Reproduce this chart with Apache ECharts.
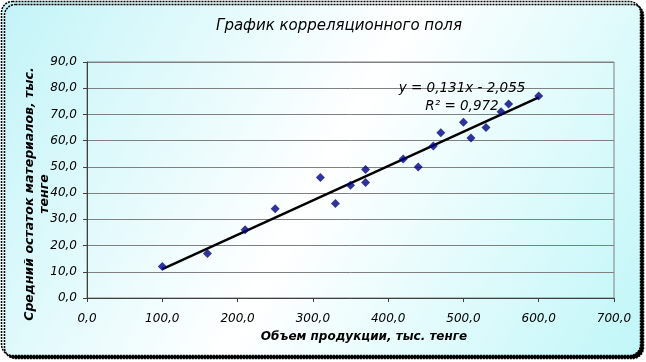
<!DOCTYPE html>
<html>
<head>
<meta charset="utf-8">
<script src="https://cdn.jsdelivr.net/npm/echarts@6/dist/echarts.min.js"></script>
<style>
html,body{margin:0;padding:0;background:#ffffff;}
#chart{width:646px;height:362px;}
</style>
</head>
<body>
<div id="chart"></div>
<script>
// Data
const titleText = 'График корреляционного поля';
const xAxisTitle = 'Объем продукции, тыс. тенге';
const yAxisTitle = 'Средний остаток материалов, тыс.\nтенге';
const xValues = [100, 160, 210, 250, 310, 330, 350, 370, 370, 420, 440, 460, 470, 500, 510, 530, 550, 560, 600];
const yValues = [12, 17, 26, 34, 46, 36, 43, 44, 49, 53, 50, 58, 63, 67, 61, 65, 71, 74, 77];
const trendSlope = 0.131;
const trendIntercept = -2.055;
const trendRange = [100, 600];
const equationText = 'y = 0,131x - 2,055';
const r2Text = 'R² = 0,972';
const xTicks = {min: 0, max: 700, interval: 100};
const yTicks = {min: 0, max: 90, interval: 10};

const points = xValues.map((x, i) => [x, yValues[i]]);
const trend = trendRange.map(x => [x, trendSlope * x + trendIntercept]);
const fmt = v => v.toFixed(1).replace('.', ',');

const chart = echarts.init(document.getElementById('chart'), null, {renderer: 'canvas'});
const font = '"DejaVu Sans", sans-serif';
chart.setOption({
  backgroundColor: 'transparent',
  animation: false,
  graphic: [
    {
      type: 'rect', z: -10, silent: true,
      shape: {x: 1.5, y: 1.5, width: 639, height: 354, r: 11},
      style: {
        fill: new echarts.graphic.LinearGradient(0, 0, 1, 1, [
          {offset: 0, color: '#c2f4f8'},
          {offset: 0.5, color: '#ffffff'},
          {offset: 1, color: '#c0f6f8'}
        ]),
        stroke: '#000000', lineWidth: 1.5, lineDash: [2, 1],
        shadowColor: '#000000', shadowOffsetX: 3, shadowOffsetY: 3, shadowBlur: 0
      }
    },
    {
      type: 'text', x: 339, y: 26, z: 10,
      style: {text: titleText, font: 'italic 15px ' + font, fill: '#000000',
              textAlign: 'center', textVerticalAlign: 'middle'}
    },
    {
      type: 'text', x: 462, y: 97, z: 10,
      style: {text: equationText + '\n' + r2Text, font: 'italic 13.5px ' + font, fill: '#000000',
              textAlign: 'center', textVerticalAlign: 'middle', lineHeight: 18}
    },
    {
      type: 'text', x: 364, y: 337, z: 10,
      style: {text: xAxisTitle, font: 'italic bold 12px ' + font, fill: '#000000',
              textAlign: 'center', textVerticalAlign: 'middle'}
    },
    {
      type: 'text', x: 37, y: 194, z: 10, rotation: Math.PI / 2,
      style: {text: yAxisTitle, font: 'italic bold 12.5px ' + font, fill: '#000000',
              textAlign: 'center', textVerticalAlign: 'middle', lineHeight: 15}
    }
  ],
  grid: {left: 87, right: 32, top: 62, bottom: 64, show: true, borderColor: '#808080', borderWidth: 1, backgroundColor: 'transparent'},
  xAxis: {
    type: 'value', min: xTicks.min, max: xTicks.max, interval: xTicks.interval,
    axisLine: {show: true, lineStyle: {color: '#404040', width: 1}},
    axisTick: {show: true, length: 4, lineStyle: {color: '#404040'}},
    splitLine: {show: false},
    axisLabel: {fontFamily: font, fontSize: 12, fontStyle: 'italic', color: '#000', margin: 15, formatter: fmt}
  },
  yAxis: {
    type: 'value', min: yTicks.min, max: yTicks.max, interval: yTicks.interval,
    axisLine: {show: true, lineStyle: {color: '#404040', width: 1}},
    axisTick: {show: true, length: 4, lineStyle: {color: '#404040'}},
    splitLine: {show: true, lineStyle: {color: '#808080', width: 1}},
    axisLabel: {fontFamily: font, fontSize: 12, fontStyle: 'italic', color: '#000', margin: 10, formatter: fmt}
  },
  series: [
    {
      type: 'line', data: trend, showSymbol: false, symbol: 'none', z: 3,
      lineStyle: {color: '#000000', width: 2.5}
    },
    {
      type: 'scatter', data: points, symbol: 'diamond', symbolSize: 9, z: 4,
      itemStyle: {color: '#000080'}
    }
  ]
});
</script>
</body>
</html>
